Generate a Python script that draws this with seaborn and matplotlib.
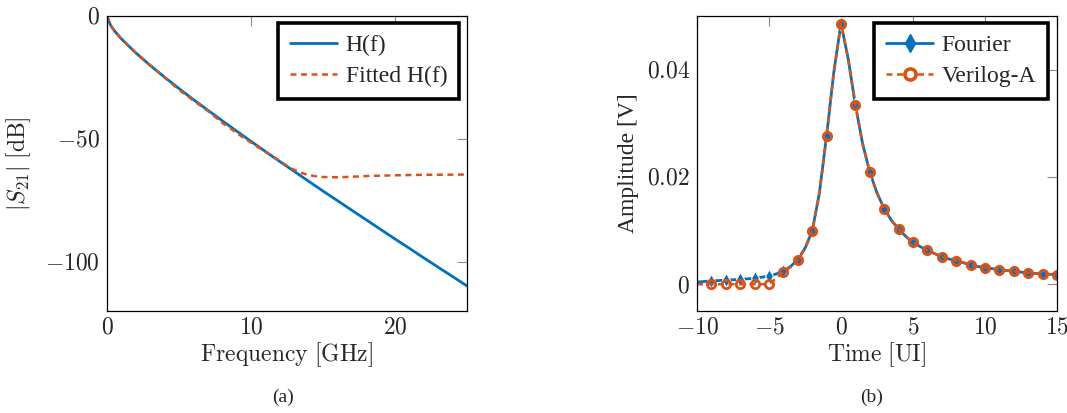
import numpy as np
import pandas as pd
import matplotlib
matplotlib.use("Agg")
import matplotlib.pyplot as plt
from matplotlib.lines import Line2D
import seaborn as sns

# ---------------- data ----------------
# (a) channel magnitude response
freq_ghz = [0, 0.25, 0.5, 1, 2, 3, 4, 5, 6, 7, 8, 9, 10, 11, 12, 13, 14, 15,
            16, 17, 18, 19, 20, 21, 22, 23, 24, 25]
h_db = [0.0, -3.8, -5.9, -9.3, -15.0, -20.1, -24.9, -29.5, -34.0, -38.3, -42.6,
        -46.8, -51.0, -55.1, -59.2, -63.2, -67.2, -71.2, -75.1, -79.0, -82.9,
        -86.8, -90.7, -94.5, -98.4, -102.2, -106.0, -109.8]

fit_freq_ghz = [0, 0.25, 0.5, 1, 2, 3, 4, 5, 5.5, 6, 7, 8, 8.5, 9, 10, 11, 12,
                12.5, 13, 13.5, 14, 14.5, 15, 16, 17, 18, 20, 22, 25]
fit_db = [0.0, -3.8, -5.9, -9.3, -15.0, -20.0, -25.0, -30.0, -32.2, -34.4, -38.6,
          -43.4, -45.4, -47.6, -51.5, -55.3, -59.0, -61.0, -62.6, -63.8, -64.7,
          -65.2, -65.5, -65.6, -65.4, -65.1, -64.8, -64.6, -64.5]

# (b) pulse response
time_ui = [-10, -9.5, -9, -8.5, -8, -7.5, -7, -6.5, -6, -5.5, -5, -4.5, -4, -3.5,
           -3, -2.5, -2, -1.5, -1, -0.5, 0, 0.5, 1, 1.5, 2, 2.5, 3, 3.5, 4, 4.5,
           5, 5.5, 6, 6.5, 7, 7.5, 8, 8.5, 9, 9.5, 10, 10.5, 11, 11.5, 12, 12.5,
           13, 13.5, 14, 14.5, 15]
fourier_v = [0.0004, 0.0005, 0.0006, 0.00068, 0.00075, 0.00082, 0.0009, 0.001,
             0.0011, 0.0013, 0.0015, 0.0019, 0.0025, 0.0033, 0.0046, 0.0067,
             0.0099, 0.0170, 0.0277, 0.0395, 0.0486, 0.0420, 0.0334, 0.0262,
             0.0209, 0.0170, 0.0141, 0.0119, 0.0103, 0.0089, 0.0078, 0.0070,
             0.0063, 0.0057, 0.0051, 0.0047, 0.0044, 0.0040, 0.0036, 0.0033,
             0.0031, 0.0029, 0.0027, 0.00255, 0.0024, 0.00225, 0.0021, 0.0020,
             0.0019, 0.00185, 0.0018]
verilog_v = [0.0, 0.0, 0.0, 0.0, 0.0, 0.0, 0.0, 0.0, 0.0, 0.0, 0.0, 0.0011,
             0.0023, 0.0032, 0.0045, 0.0067, 0.0099, 0.0170, 0.0277, 0.0395,
             0.0486, 0.0420, 0.0334, 0.0262, 0.0209, 0.0170, 0.0141, 0.0119,
             0.0103, 0.0089, 0.0078, 0.0070, 0.0063, 0.0057, 0.0051, 0.0047,
             0.0044, 0.0040, 0.0036, 0.0033, 0.0031, 0.0029, 0.0027, 0.00255,
             0.0024, 0.00225, 0.0021, 0.0020, 0.0019, 0.00185, 0.0018]

a_xticks = [0, 10, 20]
a_xticklabels = ["$0$", "$10$", "$20$"]
a_yticks = [-100, -50, 0]
a_yticklabels = ["$-100$", "$-50$", "$0$"]
b_xticks = [-10, -5, 0, 5, 10, 15]
b_xticklabels = ["$-10$", "$-5$", "$0$", "$5$", "$10$", "$15$"]
b_yticks = [0, 0.02, 0.04]
b_yticklabels = ["$0$", "$0.02$", "$0.04$"]

# ---------------- style ----------------
sns.set_theme(style="white")
plt.rcParams["font.family"] = ["Liberation Serif", "DejaVu Serif"]
plt.rcParams["mathtext.fontset"] = "cm"
plt.rcParams["axes.edgecolor"] = "black"
plt.rcParams["axes.linewidth"] = 0.9

BLUE = "#0072BD"
ORANGE = "#D95319"
FS = 17

fig = plt.figure(figsize=(10.67, 4.13), dpi=100)
W, H = 1067, 413
ax1 = fig.add_axes([107 / W, (H - 311) / H, 360 / W, 295 / H])
ax2 = fig.add_axes([697 / W, (H - 311) / H, 360 / W, 295 / H])


def style_axes(ax):
    ax.tick_params(which="both", direction="in", length=7.5, width=0.8,
                   color="#8c8c8c", top=True, right=True, labelsize=FS, pad=5)
    for s in ax.spines.values():
        s.set_color("black")
        s.set_linewidth(0.9)


# ---------------- (a) ----------------
df_h = pd.DataFrame({"f": freq_ghz, "db": h_db})
df_fit = pd.DataFrame({"f": fit_freq_ghz, "db": fit_db})
sns.lineplot(data=df_h, x="f", y="db", ax=ax1, color=BLUE, lw=2.0, legend=False)
sns.lineplot(data=df_fit, x="f", y="db", ax=ax1, color=ORANGE, lw=1.8, legend=False)
ax1.lines[-1].set_dashes((2.4, 1.8))

ax1.set_xlim(0, 25)
ax1.set_ylim(-120, 0)
ax1.set_xticks(a_xticks)
ax1.set_xticklabels(a_xticklabels)
ax1.set_yticks(a_yticks)
ax1.set_yticklabels(a_yticklabels)
style_axes(ax1)
ax1.set_xlabel(r"$\mathrm{Frequency\ [GHz]}$", fontsize=FS, labelpad=1)
ax1.set_ylabel(r"$|S_{21}|\ [\mathrm{dB}]$", fontsize=FS, labelpad=9)

hdl_a = [Line2D([], [], color=BLUE, lw=2.0),
         Line2D([], [], color=ORANGE, lw=1.8, dashes=(2.4, 1.8))]
leg1 = ax1.legend(hdl_a, ["H(f)", "Fitted H(f)"], loc="upper right",
                  bbox_to_anchor=(0.978, 0.976), borderaxespad=0, fontsize=FS,
                  fancybox=False, framealpha=1, edgecolor="black",
                  handlelength=2.0, handletextpad=0.35, labelspacing=0.4,
                  borderpad=0.5)
leg1.get_frame().set_linewidth(2.6)

# ---------------- (b) ----------------
marks = [i for i, v in enumerate(time_ui) if float(v).is_integer() and v > -10]
df_b = pd.DataFrame({"t": time_ui, "fourier": fourier_v, "verilog": verilog_v})
sns.lineplot(data=df_b, x="t", y="fourier", ax=ax2, color=BLUE, lw=2.0,
             marker="d", markersize=7.5, markeredgewidth=0.8, markevery=marks,
             legend=False)
sns.lineplot(data=df_b, x="t", y="verilog", ax=ax2, color=ORANGE, lw=1.8,
             marker="o", markersize=6, markerfacecolor="none",
             markeredgecolor=ORANGE, markeredgewidth=2.0, markevery=marks,
             legend=False)
ax2.lines[-1].set_dashes((2.4, 1.8))

ax2.set_xlim(-10, 15)
ax2.set_ylim(-0.005, 0.05)
ax2.set_xticks(b_xticks)
ax2.set_xticklabels(b_xticklabels)
ax2.set_yticks(b_yticks)
ax2.set_yticklabels(b_yticklabels)
style_axes(ax2)
ax2.set_xlabel(r"$\mathrm{Time\ [UI]}$", fontsize=FS, labelpad=1)
ax2.set_ylabel("Amplitude [V]", fontsize=FS, labelpad=6)

hdl_b = [Line2D([], [], color=BLUE, lw=2.0, marker="d", markersize=9),
         Line2D([], [], color=ORANGE, lw=1.8, dashes=(2.4, 1.8), marker="o",
                markersize=8, markerfacecolor="white", markeredgecolor=ORANGE,
                markeredgewidth=2.6)]
leg2 = ax2.legend(hdl_b, ["Fourier", "Verilog-A"], loc="upper right",
                  bbox_to_anchor=(0.975, 0.976), borderaxespad=0, fontsize=FS,
                  fancybox=False, framealpha=1, edgecolor="black",
                  handlelength=2.0, handletextpad=0.35, labelspacing=0.4,
                  borderpad=0.5, numpoints=1)
leg2.get_frame().set_linewidth(2.6)

# ---------------- captions ----------------
fig.text(283 / W, 1 - 397 / H, "(a)", ha="center", va="center", fontsize=14)
fig.text(872 / W, 1 - 397 / H, "(b)", ha="center", va="center", fontsize=14)

fig.savefig("out.png", dpi=100)
